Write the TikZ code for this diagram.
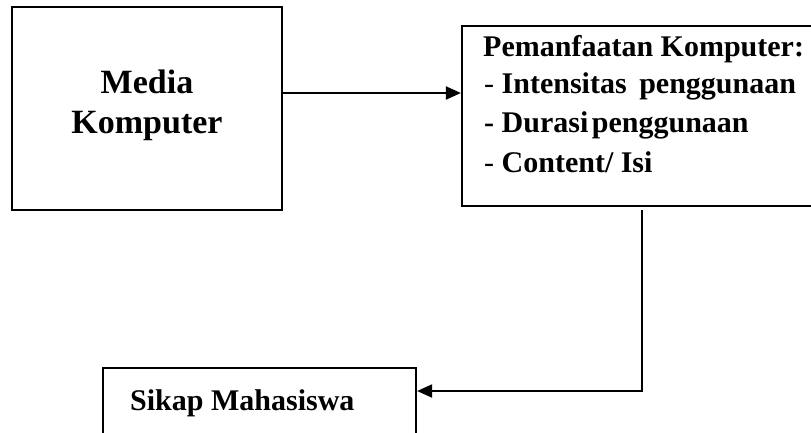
\documentclass[tikz,border=0pt]{standalone}
\usepackage{fontspec}
\setmainfont{Liberation Serif}
\usetikzlibrary{arrows.meta}

\tikzset{
  frame/.style={draw=black, line width=2.2pt, fill=white, inner sep=0pt},
  label/.style={inner sep=0pt, font=\fontsize{30}{36}\selectfont\bfseries},
  biglabel/.style={inner sep=0pt, font=\fontsize{34}{40}\selectfont\bfseries},
  flow/.style={draw=black, line width=2pt, -{Triangle[length=15pt,width=13pt]}}
}

\begin{document}
\begin{tikzpicture}[x=1pt,y=-1pt]
  \clip (0,0) rectangle (811,432);
  \fill[white] (0,0) rectangle (811,432);

  % boxes
  \node[frame, minimum width=270pt, minimum height=203pt] (media) at (147,108.5) {};
  \node[frame, minimum width=360pt, minimum height=180pt] (panel) at (642,116) {};
  \node[frame, minimum width=313pt, minimum height=80pt] (sikap) at (259.5,408) {};

  % box texts
  \node[biglabel, anchor=base] (mediaA) at (147,93) {Media};
  \node[biglabel, anchor=base] (mediaB) at (147,133) {Komputer};

  \node[label, anchor=base west] (p0) at (483,56) {Pemanfaatan Komputer:};
  \node[label, anchor=base west] (p1) at (484,93) {\mdseries -\ \bfseries Intensitas\hspace{0.42em}penggunaan};
  \node[label, anchor=base west] (p2) at (484,132) {-\ Durasi\hspace{0.12em}penggunaan};
  \node[label, anchor=base west] (p3) at (484,172) {\mdseries -\ \bfseries Content/ Isi};

  \node[label, anchor=base west] (s0) at (130,410) {Sikap Mahasiswa};

  % connectors
  \coordinate (row) at (0,93);
  \coordinate (bend) at (642,391);
  \draw[flow] (media.east |- row) -- (panel.west |- row);
  \draw[flow] ([yshift=-3pt]panel.south) -- (bend) -- (sikap.east |- bend);
\end{tikzpicture}
\end{document}
